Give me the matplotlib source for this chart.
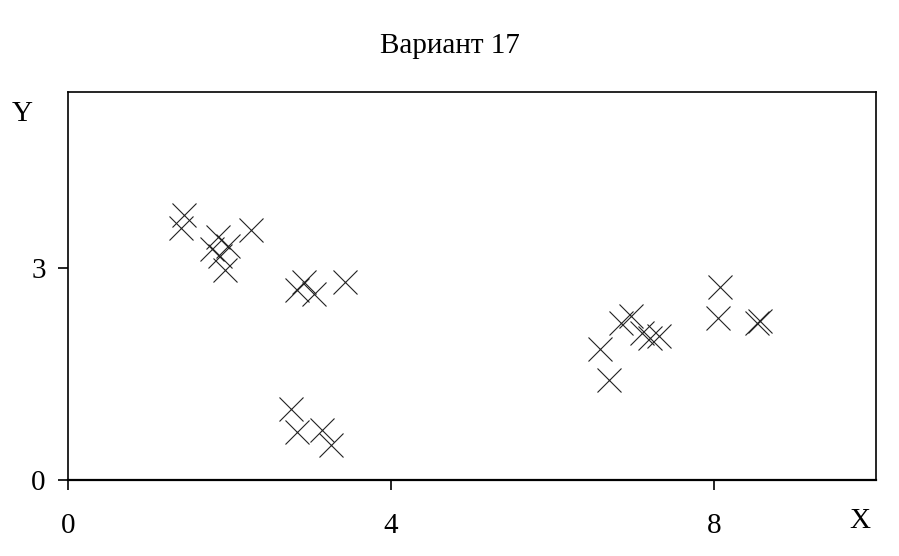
import matplotlib
matplotlib.use("Agg")
import matplotlib.pyplot as plt

# point coordinates
x_vals = [1.44, 1.40, 1.86, 1.98, 1.78, 1.88, 1.94, 2.27,
          2.92, 2.83, 3.05, 3.43,
          2.76, 2.83, 3.15, 3.26,
          6.97, 6.85, 7.10, 7.20, 7.32, 6.59, 6.69,
          8.07, 8.04, 8.57, 8.53]
y_vals = [3.75, 3.57, 3.45, 3.32, 3.28, 3.17, 2.97, 3.55,
          2.80, 2.69, 2.63, 2.80,
          1.00, 0.68, 0.71, 0.50,
          2.32, 2.22, 2.09, 2.01, 2.04, 1.85, 1.42,
          2.74, 2.30, 2.26, 2.22]

x_ticks = [0, 4, 8]
y_ticks = [0, 3]
title = "Вариант 17"

plt.rcParams["font.family"] = ["Liberation Serif", "DejaVu Serif"]
plt.rcParams["font.size"] = 21

fig = plt.figure(figsize=(8.99, 5.56), dpi=100)
ax = fig.add_axes([0.0756, 0.1367, 0.8988, 0.6978])

ax.plot(x_vals, y_vals, linestyle="none", marker="x", markersize=17,
        markeredgewidth=0.8, color="#222222")

ax.set_xlim(0, 10)
ax.set_ylim(0, 5.5)
ax.set_xticks(x_ticks)
ax.set_yticks(y_ticks)
ax.tick_params(axis="x", direction="out", length=7, width=1.2, pad=17)
ax.tick_params(axis="y", direction="out", length=7, width=1.2, pad=9)
for s in ax.spines.values():
    s.set_linewidth(1.2)
ax.spines["bottom"].set_linewidth(1.6)

fig.text(0.5, 0.918, title, ha="center", va="center")
fig.text(0.0245, 0.795, "Y", ha="center", va="center")
fig.text(0.957, 0.063, "X", ha="center", va="center")

fig.savefig("out.png", dpi=100)
